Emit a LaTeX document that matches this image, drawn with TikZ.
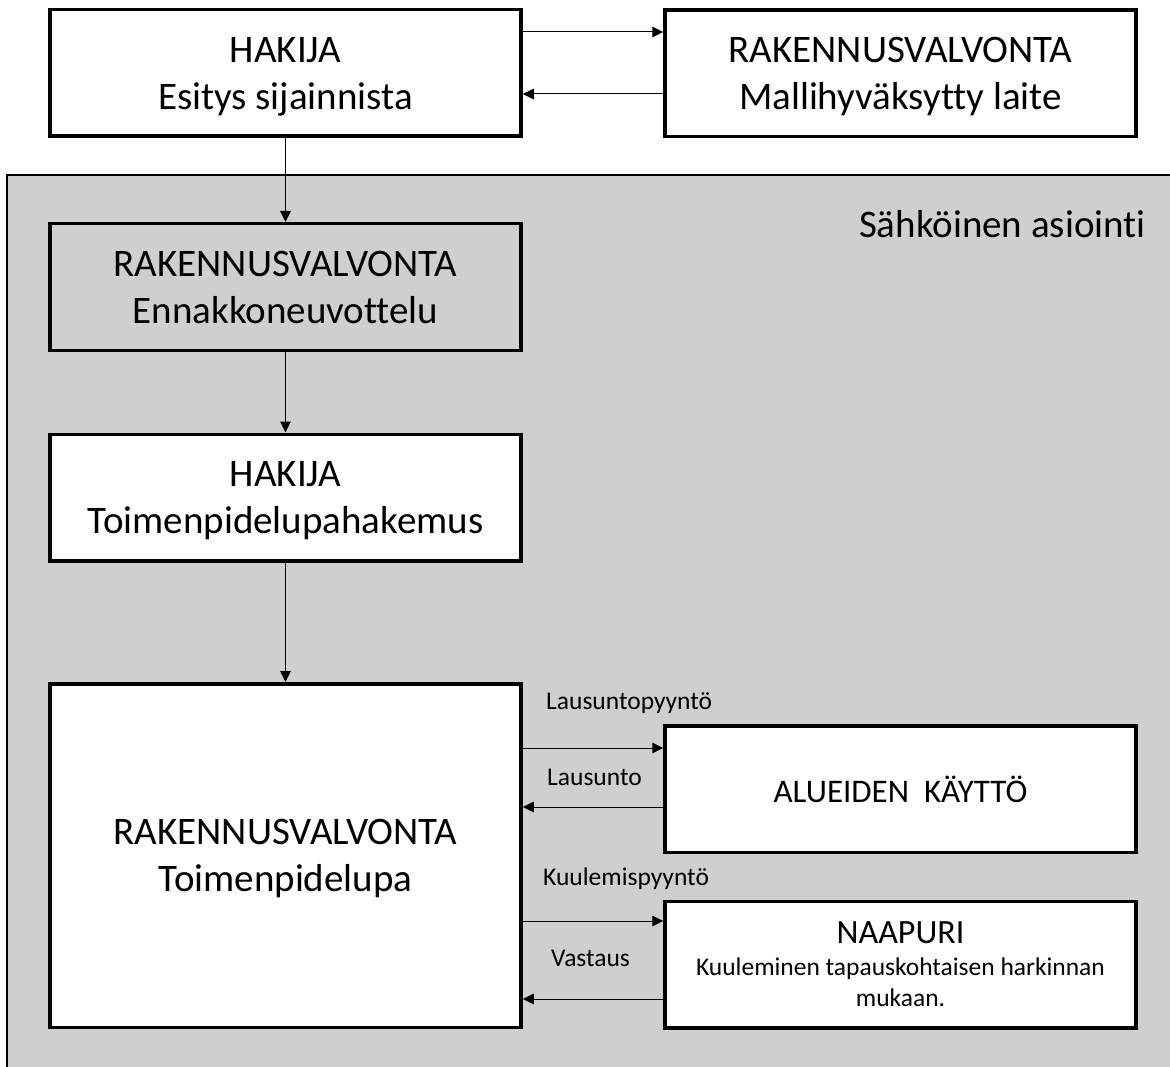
\documentclass[tikz,border=0pt]{standalone}
\usepackage{fontspec}
\setmainfont{Carlito}[Ligatures=CommonOff]
\usetikzlibrary{arrows.meta}
\definecolor{bggray}{HTML}{D0CECE}
\begin{document}
\begin{tikzpicture}[x=1pt,y=-1pt,
  box/.style={draw,line width=3.5pt,fill=white,align=center,inner sep=0pt,text depth=0pt,
    minimum width=471pt,minimum height=126.5pt,font=\fontsize{39}{47}\selectfont},
  arr/.style={line width=1pt,-{Triangle[length=11pt,width=10.5pt]}},
  lbl/.style={font=\fontsize{25.5}{30}\selectfont,anchor=west,inner sep=0pt}]
\useasboundingbox (0,0) rectangle (1170,1067);
% background panel
\fill[bggray] (7,175) rectangle (1171,1068);
\draw[line width=1.8pt] (7,1068) -- (7,175) -- (1171,175);
\node[anchor=east,inner sep=0pt,font=\fontsize{39}{45}\selectfont] (sa) at (1146,224) {Sähköinen asiointi};
% boxes
\node[box] (b1) at (285.5,73) {HAKIJA\\Esitys sijainnista};
\node[box] (b2) at (900.5,73.5) {RAKENNUSVALVONTA\\Mallihyväksytty laite};
\node[box,fill=bggray] (b3) at (285.5,287) {RAKENNUSVALVONTA\\Ennakkoneuvottelu};
\node[box] (b4) at (285.5,497.5) {HAKIJA\\Toimenpidelupahakemus};
\node[box,minimum height=343.5pt] (b5) at (285.5,855.5) {RAKENNUSVALVONTA\\Toimenpidelupa};
\node[box,font=\fontsize{33}{38}\selectfont] (b6) at (900.5,789) {ALUEIDEN~~KÄYTTÖ};
\node[box,font=\fontsize{25.5}{31}\selectfont] (b7) at (900.5,964.5)
  {{\fontsize{34}{38}\selectfont NAAPURI}\\[1pt]Kuuleminen tapauskohtaisen harkinnan\\mukaan.};
% connectors
\draw[arr] (b1.east |- 0,32) -- (b2.west |- 0,32);
\draw[arr] (b2.west |- 0,94) -- (b1.east |- 0,94);
\draw[arr] (b1) -- (b3);
\draw[arr] (b3) -- (b4);
\draw[arr] (b4) -- (b5);
\draw[arr] (b5.east |- 0,748) -- (b6.west |- 0,748);
\draw[arr] (b6.west |- 0,807) -- (b5.east |- 0,807);
\draw[arr] (b5.east |- 0,921) -- (b7.west |- 0,921);
\draw[arr] (b7.west |- 0,999) -- (b5.east |- 0,999);
% labels
\node[lbl] (l1) at (546,703) {Lausuntopyyntö};
\node[lbl] (l2) at (547,777) {Lausunto};
\node[lbl] (l3) at (543,879) {Kuulemispyyntö};
\node[lbl] (l4) at (551,958) {Vastaus};
\end{tikzpicture}
\end{document}
